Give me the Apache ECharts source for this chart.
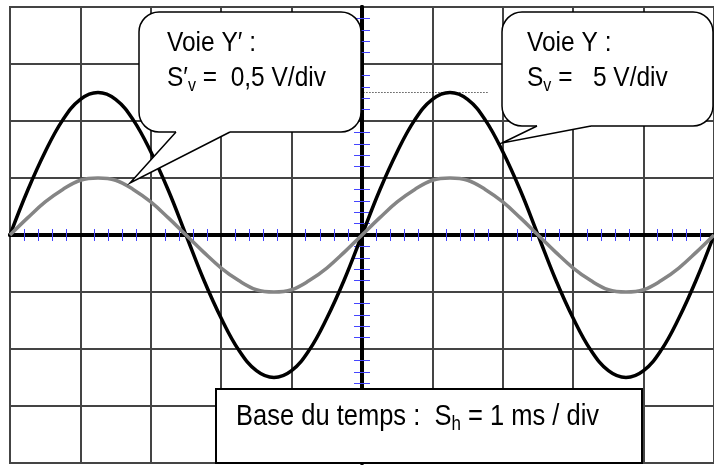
<!DOCTYPE html>
<html>
<head>
<meta charset="utf-8">
<title>Oscillogramme</title>
<script src="https://cdn.jsdelivr.net/npm/echarts@6/dist/echarts.min.js"></script>
<style>
    html,body{margin:0;padding:0;background:#fff;}
    #scope{width:714px;height:466px;}
</style>
</head>
<body>
<div id="scope"></div>
<script>
// temps en ms (pas de 0,25 ms), relevé sur l'écran
const timeMs = [0, 0.25, 0.5, 0.75, 1, 1.25, 1.5, 1.75, 2, 2.25, 2.5, 2.75, 3, 3.25, 3.5, 3.75, 4, 4.25, 4.5, 4.75,
    5, 5.25, 5.5, 5.75, 6, 6.25, 6.5, 6.75, 7, 7.25, 7.5, 7.75, 8, 8.25, 8.5, 8.75, 9, 9.25, 9.5, 9.75, 10]
// voie Y (V), 5 V/div
const voieY = [0, 3.9, 7.3, 10.1, 11.9, 12.5, 11.9, 10.1, 7.3, 3.9, 0, -3.9, -7.3, -10.1, -11.9, -12.5, -11.9, -10.1, -7.3, -3.9,
    0, 3.9, 7.3, 10.1, 11.9, 12.5, 11.9, 10.1, 7.3, 3.9, 0, -3.9, -7.3, -10.1, -11.9, -12.5, -11.9, -10.1, -7.3, -3.9, 0]
// voie Y' (V), 0,5 V/div
const voieYp = [0, 0.15, 0.29, 0.4, 0.48, 0.5, 0.48, 0.4, 0.29, 0.15, 0, -0.15, -0.29, -0.4, -0.48, -0.5, -0.48, -0.4, -0.29, -0.15,
    0, 0.15, 0.29, 0.4, 0.48, 0.5, 0.48, 0.4, 0.29, 0.15, 0, -0.15, -0.29, -0.4, -0.48, -0.5, -0.48, -0.4, -0.29, -0.15, 0]
// niveau crête repéré en pointillés
const peakLevel = 12.5
const peakMarkFrom = 4.85
const peakMarkTo = 6.8

window.addEventListener('DOMContentLoaded',()=>{
    const chart=echarts.init(document.getElementById('scope'))

    const gridColor='#444'
    const tickBlue='#4545ff'
    const fontFam='"Liberation Sans", Arial, sans-serif'

    // axe central avec graduations bleues (un axe par côté, même position)
    function centerX(inside){
        return {
            type:'value', min:0, max:10, interval:1,
            position:'bottom',
            axisLine:{show:true, onZero:true, onZeroAxisIndex:0, lineStyle:{color:'#000', width:4}},
            axisTick:{show:false, inside:inside},
            minorTick:{show:true, splitNumber:5, length:6, lineStyle:{color:tickBlue, width:1}},
            axisLabel:{show:false},
            splitLine:{show:!inside, lineStyle:{color:gridColor, width:2}}
        }
    }
    function centerY(inside){
        return {
            type:'value', min:-20, max:20, interval:5,
            position:'left',
            axisLine:{show:true, onZero:true, onZeroAxisIndex:2, lineStyle:{color:'#000', width:4}},
            axisTick:{show:false, inside:inside},
            minorTick:{show:true, splitNumber:5, length:8, lineStyle:{color:tickBlue, width:1}},
            axisLabel:{show:false},
            splitLine:{show:!inside, lineStyle:{color:gridColor, width:2}}
        }
    }

    const pts=(ys)=>timeMs.map((t,i)=>[t,ys[i]])

    const option={
        animation:false,
        grid:{
            left:10, top:7, width:714, height:456,
            show:true, borderColor:gridColor, borderWidth:2
        },
        xAxis:[
            centerX(false),
            centerX(true),
            {type:'value', min:-5, max:5, show:false, position:'top'}
        ],
        yAxis:[
            centerY(false),
            centerY(true),
            {type:'value', min:-2, max:2, show:false, position:'right'}
        ],
        series:[
            {
                name:'Voie Y',
                type:'line',
                xAxisIndex:0, yAxisIndex:0,
                smooth:0.4,
                symbol:'none',
                lineStyle:{color:'#000', width:3.5},
                data:pts(voieY),
                z:3,
                markLine:{
                    silent:true,
                    symbol:'none',
                    label:{show:false},
                    lineStyle:{color:'#000', type:[1,2], width:1, opacity:1},
                    data:[[{coord:[peakMarkFrom,peakLevel]},{coord:[peakMarkTo,peakLevel]}]]
                }
            },
            {
                name:"Voie Y'",
                type:'line',
                xAxisIndex:0, yAxisIndex:2,
                smooth:0.4,
                symbol:'none',
                lineStyle:{color:'#858585', width:3.5},
                data:pts(voieYp),
                z:4
            }
        ],
        graphic:[
            // marge blanche sous l'écran
            {type:'rect', z:99, shape:{x:0, y:465, width:714, height:2}, style:{fill:'#fff'}},
            // bulle voie Y'
            {type:'rect', z:100, shape:{x:139, y:12, width:222, height:120, r:20},
                style:{fill:'#fff', stroke:'#000', lineWidth:1.5}},
            {type:'polygon', z:101, shape:{points:[[176,128],[176,132],[130,183],[230,132],[230,128]]},
                style:{fill:'#fff'}},
            {type:'polyline', z:102, shape:{points:[[176,132],[130,183],[230,132]]},
                style:{stroke:'#000', lineWidth:1.5, fill:null}},
            {type:'text', z:103, x:167, y:26, scaleY:1.15,
                style:{
                    text:"{a|Voie Y′ :}\n{a|S′}{s|v}{a| =  0,5 V/div}",
                    verticalAlign:'top',
                    rich:{
                        a:{fontSize:24.5, fontFamily:fontFam, fill:'#000', lineHeight:30, verticalAlign:'middle'},
                        s:{fontSize:16, fontFamily:fontFam, fill:'#000', lineHeight:18, verticalAlign:'bottom'}
                    }
                }},
            // bulle voie Y
            {type:'rect', z:100, shape:{x:502, y:12, width:211, height:114, r:20},
                style:{fill:'#fff', stroke:'#000', lineWidth:1.5}},
            {type:'polygon', z:101, shape:{points:[[537,122],[537,126],[502,143],[591,126],[591,122]]},
                style:{fill:'#fff'}},
            {type:'polyline', z:102, shape:{points:[[537,126],[502,143],[591,126]]},
                style:{stroke:'#000', lineWidth:1.5, fill:null}},
            {type:'text', z:103, x:527, y:26, scaleY:1.15,
                style:{
                    text:"{a|Voie Y :}\n{a|S}{s|v}{a| =   5 V/div}",
                    verticalAlign:'top',
                    rich:{
                        a:{fontSize:24.5, fontFamily:fontFam, fill:'#000', lineHeight:30, verticalAlign:'middle'},
                        s:{fontSize:16, fontFamily:fontFam, fill:'#000', lineHeight:18, verticalAlign:'bottom'}
                    }
                }},
            // base de temps
            {type:'rect', z:100, shape:{x:216, y:389, width:426, height:74},
                style:{fill:'#fff', stroke:'#000', lineWidth:2}},
            {type:'text', z:103, x:236, y:400, scaleY:1.15,
                style:{
                    text:"{a|Base du temps :  S}{s|h}{a| = 1 ms / div}",
                    verticalAlign:'top',
                    rich:{
                        a:{fontSize:25.5, fontFamily:fontFam, fill:'#000', lineHeight:30, verticalAlign:'middle'},
                        s:{fontSize:17, fontFamily:fontFam, fill:'#000', lineHeight:18, verticalAlign:'bottom'}
                    }
                }}
        ]
    }

    chart.setOption(option)

    window.addEventListener('resize',function(){
        chart.resize()
    })
})
</script>
</body>
</html>
